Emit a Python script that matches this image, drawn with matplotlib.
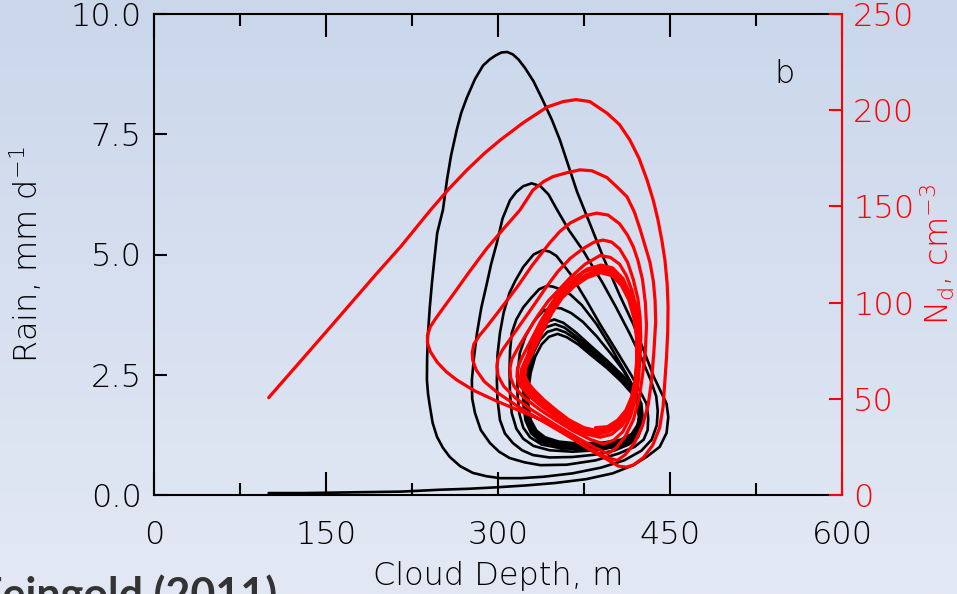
import numpy as np
import matplotlib
matplotlib.use("Agg")
import matplotlib.pyplot as plt
from matplotlib.colors import LinearSegmentedColormap
from matplotlib.ticker import MultipleLocator, FixedLocator, FormatStrFormatter

# ---- trajectory data: (cloud depth [m], rain rate [mm/d]) ----
rain_transient = [
    # spin-up along the bottom
    (100, 0.04), (130, 0.04), (160, 0.05), (190, 0.06), (215, 0.07), (250, 0.11),
    (275, 0.13), (299, 0.16), (325, 0.2), (350, 0.25), (377, 0.33), (400, 0.45),
    (418, 0.62), (430, 0.8), (441, 1.0), (447, 1.29), (448.5, 1.62),
    # first rain burst
    (447, 1.9), (443, 2.1), (436, 2.45), (428, 2.95), (418, 3.55), (406, 4.16),
    (392, 4.93), (380, 5.65), (369, 6.3), (360, 6.95), (354, 7.38), (347, 7.8),
    (339, 8.21), (331, 8.6), (323.5, 8.88), (318, 9.05), (313, 9.16), (308, 9.21),
    (303, 9.2), (298, 9.14), (293, 9.06), (287, 8.93), (280, 8.65), (273, 8.27),
    (268, 7.95), (264, 7.59), (259, 7.05), (255.5, 6.55), (252, 5.93), (247, 5.45),
    (244.5, 4.9), (242.4, 4.41), (240.5, 3.9), (239, 3.37), (238.2, 2.85), (238, 2.39),
    (239, 2.1), (240.7, 1.83), (243, 1.5), (246.8, 1.21), (252, 0.98), (258, 0.79),
    (267, 0.6), (278, 0.46), (290, 0.39), (302, 0.35), (320, 0.35), (340, 0.38),
    (365, 0.45), (390, 0.57), (410, 0.72), (425, 0.92), (434, 1.15), (438.5, 1.45),
    (439.3, 1.75),
    # second burst
    (438, 2.05), (433, 2.4), (425, 2.85), (415, 3.35), (403, 3.9), (391, 4.42),
    (380, 4.85), (374, 5.09), (362, 5.5), (351.5, 5.93), (344, 6.25), (337, 6.42),
    (329.4, 6.48), (322, 6.42), (316, 6.3), (310.5, 6.13), (304, 5.75), (299, 5.24),
    (294, 4.8), (290.4, 4.41), (285.5, 3.9), (281.7, 3.37), (279, 2.85), (277.2, 2.39),
    (277.5, 2.0), (280, 1.7), (285, 1.35), (293, 1.08), (301, 0.9), (310, 0.77),
    (323, 0.68), (337, 0.62), (360, 0.63), (385, 0.72), (405, 0.86), (419, 1.0),
    (427, 1.15), (430.5, 1.35), (431, 1.6),
    # third burst
    (429.5, 1.9), (424, 2.15), (416, 2.5), (402, 3.05), (389, 3.55), (377, 4.05),
    (363, 4.6), (351, 4.97), (345, 5.06), (339, 5.09), (331, 5.0), (322, 4.74),
    (315, 4.45), (310, 4.2), (305, 3.8), (301.7, 3.37), (299.5, 2.9), (299, 2.39),
    (299.5, 2.0), (301.7, 1.56), (306, 1.28), (313, 1.08), (321, 0.93), (330.5, 0.83),
    (345, 0.78), (365, 0.79), (385, 0.84), (402, 0.93), (414, 1.05), (422, 1.2),
    (425.5, 1.42), (426, 1.65),
    # fourth burst
    (425, 1.9), (420, 2.15), (411, 2.55), (399, 3.05), (386, 3.55), (373, 3.95),
    (363, 4.17), (354, 4.28), (348, 4.33), (343, 4.35), (336, 4.28), (329, 4.1),
    (322, 3.9), (316, 3.65), (312, 3.37), (310.5, 3.0), (310, 2.6), (310.5, 2.1),
    (312, 1.7), (316, 1.38), (322, 1.17), (331, 1.02), (345, 0.93), (365, 0.9),
    (385, 0.93), (402, 1.0), (414, 1.1), (421, 1.25), (424.5, 1.45),
    # fifth burst
    (424.5, 1.7), (423, 1.98), (418, 2.25), (409, 2.6), (398, 2.95), (386, 3.3),
    (374, 3.6), (364, 3.78), (355, 3.88), (347, 3.9), (339, 3.82), (331, 3.6),
    (324, 3.3), (319, 2.95), (317, 2.5), (317, 2.1), (318.5, 1.7), (322, 1.4),
    (328, 1.2), (338, 1.05), (355, 0.97), (375, 0.95), (395, 0.98), (410, 1.05),
    (419, 1.18), (423.5, 1.4),
]

rain_limit_cycle = [
    (424.5, 1.65), (423, 1.95), (418, 2.2), (409, 2.48), (395, 2.8), (380, 3.12),
    (368, 3.38), (357, 3.58), (349, 3.65), (341, 3.58), (334, 3.4), (328, 3.1),
    (324, 2.7), (322, 2.3), (322, 1.9), (324, 1.55), (329, 1.28), (337, 1.12),
    (350, 1.02), (370, 0.98), (392, 1.0), (408, 1.06), (418, 1.18), (423, 1.38),
    (424, 1.62), (422.5, 1.92), (417.5, 2.17), (408.5, 2.44), (395, 2.75), (380, 3.06),
    (368, 3.3), (358, 3.48), (350, 3.55), (342, 3.49), (335, 3.32), (329.5, 3.04),
    (325.5, 2.66), (323.5, 2.28), (323.5, 1.9), (325.5, 1.56), (330.5, 1.3), (338.5, 1.15),
    (351, 1.05), (370, 1.01), (392, 1.03), (408, 1.09), (417.5, 1.21), (422.5, 1.4),
    (423.5, 1.6), (422, 1.9), (417, 2.14), (408, 2.4), (395, 2.7), (381, 2.98),
    (369, 3.22), (359, 3.38), (351, 3.45), (343, 3.39), (336.5, 3.22), (331, 2.96),
    (327, 2.6), (325, 2.24), (325, 1.88), (327, 1.56), (332, 1.32), (340, 1.17),
    (352, 1.08), (370, 1.04), (392, 1.06), (407.5, 1.12), (417, 1.24), (422, 1.42),
    (423, 1.6), (421.5, 1.88), (416.5, 2.12), (407.5, 2.36), (395, 2.64), (381.5, 2.9),
    (370, 3.13), (360, 3.28), (352, 3.35), (344.5, 3.29), (338, 3.13), (332.5, 2.88),
    (328.5, 2.54), (326.5, 2.2), (326.5, 1.86), (328.5, 1.56), (333.5, 1.34), (341, 1.2),
    (353, 1.11), (370, 1.07), (392, 1.09), (407, 1.15), (416.5, 1.27), (421.5, 1.45),
    (423, 1.6),
]

# ---- trajectory data: (cloud depth [m], drop concentration [cm^-3]) ----
nd_transient = [
    (100, 50.6), (150, 84.7), (193, 114.3), (215, 129), (241, 148), (257, 159),
    (273, 169), (288, 177.5), (302, 184.5), (322, 193.5), (343, 201.7), (357, 204.5),
    (368, 205.5), (380, 204.5), (395, 198.5), (406, 192.5), (415, 184.5), (423, 175),
    (430, 163.7), (435.5, 153), (439.5, 143), (443, 132), (445.6, 122), (447.5, 110),
    (448.3, 98), (448, 85), (447, 72), (445.6, 60), (444, 46), (441, 35), (435, 26),
    (427, 19.5), (418, 15.6), (412, 14.5),
    (405, 15), (395, 18.5), (380, 23.5), (360, 31.5), (340, 38.5), (320, 43.5),
    (300, 48.5), (280, 54), (264, 59.8), (255, 64), (247, 69), (241, 74.5),
    (238.5, 79), (238.5, 83), (241, 87.5), (246, 92), (252, 97), (260, 103.5),
    (275, 116), (290, 128), (305, 138.5), (319, 148), (330.5, 158.5), (340, 163),
    (348, 165.5), (360, 167.5), (371.5, 169), (382, 168.5), (395, 165), (404, 160),
    (412.5, 155), (419, 147), (424, 138), (428.5, 129), (432.5, 121), (435.5, 111),
    (437, 101), (437.5, 90), (436, 75), (434, 60), (431, 47), (426, 36), (419, 27),
    (411, 21), (404, 18),
    (395, 19.5), (380, 24), (360, 31), (340, 38), (320, 45), (300, 53), (288, 59),
    (281, 65), (278, 70), (277.5, 74), (279, 78.5), (284, 83), (290, 87.3), (300, 95),
    (316.6, 108), (330, 119.5), (345, 131), (354, 137), (363, 141.4), (375, 145),
    (386, 146.5), (396, 145.5), (406, 141), (413, 135), (418, 129), (422, 122),
    (426, 112), (428.5, 100), (429.5, 88), (428.5, 75), (426, 62), (423, 50),
    (418, 39), (411, 30.5), (403, 24.5), (396, 21.5),
    (385, 24.5), (370, 29.5), (350, 36.5), (330, 44), (315, 50.5), (305, 56.5),
    (300, 62), (299, 67), (300, 71), (304, 75.5), (310.5, 81), (320, 89),
    (330.5, 98), (342, 108), (352, 116), (363, 123), (374, 128), (384, 131.5),
    (391.6, 132.5), (399, 131.5), (406, 128), (413, 121), (418, 112), (422, 102),
    (424, 92), (424.5, 82), (424, 72), (422.5, 60), (419.5, 49), (415, 40), (409, 33),
    (401, 28.5), (392, 26.5),
    (380, 29), (365, 33.5), (350, 39), (335, 45), (322, 51), (314, 56.5), (311, 61),
    (310.5, 66), (312, 70.5), (317, 76), (325, 84), (335, 93.5), (344, 101),
    (352, 106), (363, 113), (376, 120), (389, 124.5), (398, 123.5), (406, 120),
    (412, 114), (417, 106), (421, 96), (423, 85), (423, 74), (421.5, 62),
    (418.5, 51), (414, 42), (408, 36), (399, 31.5), (389, 30),
    (378, 31.5), (364, 35.5), (350, 41), (337, 46.5), (326, 52), (319, 57),
    (316.5, 61.5), (317, 66), (320.5, 71), (328, 79.5), (337, 90), (346, 99),
    (355, 106.5), (366, 112.5), (378, 117.5), (390, 119.5), (400, 118), (409, 112.5),
    (415.5, 104), (420, 94), (422.5, 83), (422.5, 71), (421, 60), (418, 50), (413, 42),
    (406, 36.5), (397, 33), (387, 31.5),
]

nd_limit_cycle = [
    (376, 33), (363, 37), (350, 42.5), (338, 48), (328, 53), (322, 57), (319.5, 61),
    (320.5, 65.5), (325, 71.5), (334, 83), (343, 94), (352, 103), (363, 110),
    (375, 116), (388, 118.5), (399, 117), (408, 111.5), (415, 103), (419.5, 93),
    (422, 82), (422, 70), (420.5, 59), (417.5, 49.5), (412.5, 42), (405.5, 37),
    (396.5, 33.5), (386, 32.5),
    (375, 34), (362, 38), (350, 43.5), (339, 48.5), (330, 53.5), (324, 57.5),
    (321.5, 61.5), (322.5, 66), (327, 72), (336, 83.5), (345, 94), (354, 102.5),
    (365, 109.5), (377, 114.5), (389, 117), (399.5, 115.5), (408, 110.5),
    (414.5, 102.5), (419, 92.5), (421.5, 81.5), (421.5, 70), (420, 59.5), (417, 50),
    (412, 43), (405, 38), (396, 34.5), (386, 33.5),
    (375, 35), (362, 39), (351, 44), (340, 49.5), (331.5, 54.5), (326, 58.5),
    (323.5, 62), (324.5, 66.5), (329, 72.5), (338, 84), (347, 94.5), (356, 102.5),
    (366.5, 108.5), (378, 113), (389.5, 115.5), (399.5, 114), (407.5, 109),
    (414, 101.5), (418.5, 92), (421, 81), (421, 70), (419.5, 60), (416.5, 51),
    (411.5, 44), (404.5, 39), (395.5, 35.5), (385, 35),
]

depth_ticks = [0, 150, 300, 450, 600]
rain_ticks = [0.0, 2.5, 5.0, 7.5, 10.0]
nd_ticks = [0, 50, 100, 150, 200, 250]

plt.rcParams["font.family"] = ["DejaVu Sans"]
plt.rcParams["font.weight"] = "light"
plt.rcParams["axes.labelweight"] = "light"
plt.rcParams["mathtext.default"] = "regular"
TXT = 23

fig = plt.figure(figsize=(9.57, 5.94), dpi=100)

# slide-style vertical gradient behind everything
bg = fig.add_axes([0, 0, 1, 1], zorder=-10)
grad = np.linspace(0, 1, 256).reshape(-1, 1)
cmap = LinearSegmentedColormap.from_list("slide", ["#cad7eb", "#d7e0f0", "#e3e9f4"])
bg.imshow(grad, aspect="auto", cmap=cmap, extent=[0, 1, 0, 1], origin="upper")
bg.axis("off")

ax = fig.add_axes([154 / 957, 99 / 594, 688 / 957, 481 / 594])
ax.patch.set_alpha(0)

rx, ry = zip(*(rain_transient + rain_limit_cycle))
ax.plot(rx, ry, color="black", lw=1.9, solid_joinstyle="round", solid_capstyle="round")

ax.set_xlim(0, 600)
ax.set_ylim(0, 10)
ax.xaxis.set_major_locator(FixedLocator(depth_ticks))
ax.xaxis.set_minor_locator(MultipleLocator(75))
ax.yaxis.set_major_locator(FixedLocator(rain_ticks))
ax.yaxis.set_major_formatter(FormatStrFormatter("%.1f"))

ax.tick_params(axis="x", which="major", direction="in", length=16.5, width=1.5,
               top=True, labelsize=TXT, pad=18)
ax.tick_params(axis="x", which="minor", direction="in", length=8.5, width=1.5, top=True)
ax.tick_params(axis="y", which="major", direction="in", length=9.5, width=1.5,
               right=False, labelsize=TXT, pad=9)
for side in ("left", "bottom", "top"):
    ax.spines[side].set_linewidth(1.5)
ax.spines["right"].set_visible(False)

ax.set_xlabel("Cloud Depth, m", fontsize=TXT, fontweight="light")
ax.xaxis.set_label_coords(0.5, -0.137)
ax.set_ylabel("Rain, mm d$^{-1}$", fontsize=TXT, fontweight="light")
ax.yaxis.set_label_coords(-0.16, 0.5)

ax.text(0.917, 0.857, "b", transform=ax.transAxes, ha="center", va="baseline",
        fontsize=TXT, fontweight="light")

ax2 = ax.twinx()
ax2.patch.set_alpha(0)
nx, ny = zip(*(nd_transient + nd_limit_cycle))
ax2.plot(nx, ny, color="#ff0000", lw=2.3, solid_joinstyle="round", solid_capstyle="round")
ax2.set_ylim(0, 250)
ax2.yaxis.set_major_locator(FixedLocator(nd_ticks))
ax2.tick_params(axis="y", which="major", direction="in", length=9.5, width=1.5,
                colors="#ff0000", labelsize=TXT, pad=8)
for side in ("left", "bottom", "top"):
    ax2.spines[side].set_visible(False)
ax2.spines["right"].set_color("#ff0000")
ax2.spines["right"].set_linewidth(1.5)
ax2.set_ylabel("N$_d$, cm$^{-3}$", fontsize=TXT, color="#ff0000", fontweight="light")
ax2.yaxis.set_label_coords(1.112, 0.5)

fig.text(277 / 957, -0.026, "Feingold (2011)", ha="right", va="baseline",
         fontsize=31, fontweight="bold", color="#333333", family="Lato")

fig.savefig("out.png", dpi=100)
